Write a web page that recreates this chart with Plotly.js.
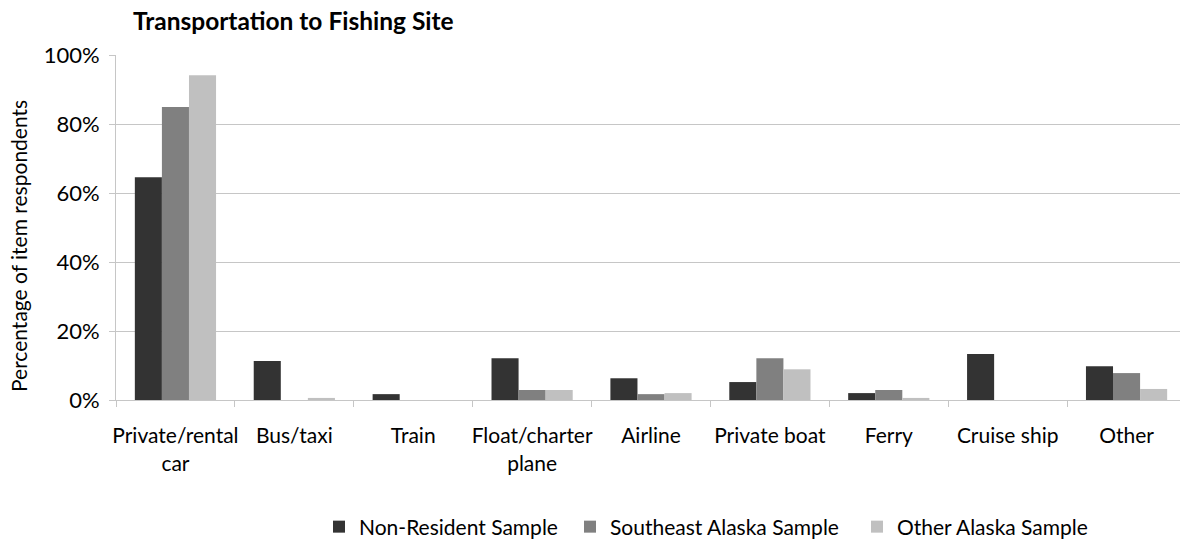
<!DOCTYPE html>
<html>
<head>
<meta charset="utf-8">
<script src="https://cdn.plot.ly/plotly-3.0.1.min.js"></script>
<style>
  html, body { margin: 0; padding: 0; width: 1180px; height: 544px; overflow: hidden; background: #fff; }
  #chart { width: 1190px; height: 544px; }
</style>
</head>
<body>
<div id="chart"></div>
<script>
const categories = ["Private/rental<br>car", "Bus/taxi", "Train", "Float/charter<br>plane", "Airline", "Private boat", "Ferry", "Cruise ship", "Other"];
const nonResident = [0.646, 0.113, 0.017, 0.121, 0.063, 0.052, 0.020, 0.133, 0.098];
const southeastAlaska = [0.849, 0.0, 0.0, 0.029, 0.017, 0.121, 0.029, 0.0, 0.078];
const otherAlaska = [0.941, 0.006, 0.0, 0.029, 0.020, 0.089, 0.006, 0.0, 0.032];
const seriesNames = ["Non-Resident Sample", "Southeast Alaska Sample", "Other Alaska Sample"];
const yTickVals = [0, 0.2, 0.4, 0.6, 0.8, 1.0];
const yTitle = "Percentage of item respondents";

const FONT = "Lato, 'Open Sans', sans-serif";
const colors = ["#333333", "#808080", "#c0c0c0"];
const seriesValues = [nonResident, southeastAlaska, otherAlaska];
const legendIds = ["legend", "legend2", "legend3"];
const legendX = [319, 570, 857];

const traces = seriesValues.map((vals, i) => ({
  type: "bar",
  name: seriesNames[i],
  x: categories,
  y: vals,
  legend: legendIds[i],
  marker: { color: colors[i], line: { width: 0 } },
  hoverinfo: "skip"
}));

function legendAt(px) {
  return {
    orientation: "h",
    xref: "container", yref: "container",
    x: px / 1190, xanchor: "left",
    y: 1 - 527 / 544, yanchor: "middle",
    font: { family: FONT, size: 21, color: "#000000" },
    bgcolor: "rgba(0,0,0,0)"
  };
}

const layout = {
  width: 1190,
  height: 544,
  margin: { l: 116, r: 4, t: 55, b: 144 },
  paper_bgcolor: "#ffffff",
  plot_bgcolor: "#ffffff",
  font: { family: FONT, size: 21, color: "#000000" },
  title: {
    text: "<b>Transportation to Fishing Site</b>",
    font: { family: FONT, size: 24.5, color: "#000000" },
    xref: "container", yref: "container",
    x: 133 / 1190, xanchor: "left",
    y: 1 - 21 / 544, yanchor: "middle"
  },
  barmode: "group",
  bargap: 0.317,
  bargroupgap: 0,
  showlegend: true,
  legend: legendAt(legendX[0]),
  legend2: legendAt(legendX[1]),
  legend3: legendAt(legendX[2]),
  annotations: [{
    text: yTitle,
    textangle: -90,
    xref: "paper", yref: "paper",
    x: 0, y: 0.5 - (246 - 227.5) / 345,
    xanchor: "center", yanchor: "middle",
    xshift: -98,
    showarrow: false,
    font: { family: FONT, size: 21, color: "#000000" }
  }],
  xaxis: {
    type: "category",
    tickson: "boundaries",
    ticks: "outside",
    ticklen: 6,
    tickcolor: "#c6c6c6",
    tickangle: 0,
    showline: true,
    linecolor: "#c6c6c6",
    linewidth: 1,
    showgrid: false,
    tickfont: { family: FONT, size: 21, color: "#000000" },
    ticklabelstandoff: 17
  },
  yaxis: {
    range: [0, 1],
    tickvals: yTickVals,
    tickformat: ".0%",
    ticks: "outside",
    ticklen: 6,
    tickcolor: "#c6c6c6",
    showline: true,
    linecolor: "#c6c6c6",
    linewidth: 1,
    showgrid: true,
    gridcolor: "#c6c6c6",
    gridwidth: 1,
    zeroline: false,
    tickfont: { family: FONT, size: 22, color: "#000000" },
    ticklabelstandoff: 5
  }
};

Plotly.newPlot("chart", traces, layout, { displayModeBar: false, staticPlot: true });
</script>
</body>
</html>
